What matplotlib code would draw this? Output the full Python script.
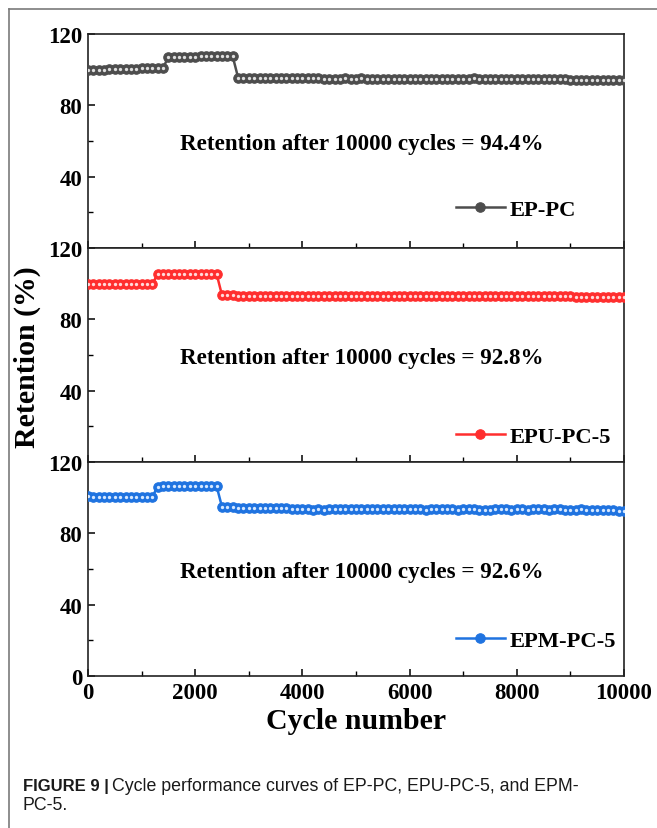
import numpy as np
import matplotlib
matplotlib.use("Agg")
import matplotlib.pyplot as plt
from matplotlib.ticker import MultipleLocator

# cycle points (every 100 cycles)
cycles = np.arange(0, 10001, 100)

ep_pc = [99.6, 99.8, 99.9, 100.0, 100.1, 100.2, 100.3, 100.4, 100.5, 100.6, 100.7, 100.8, 100.9, 101.0, 101.1,
         107.0, 107.1, 107.2, 107.2, 107.3, 107.3, 107.4, 107.4, 107.4, 107.5, 107.5, 107.6, 107.4,
         95.6, 95.5, 95.5, 95.4, 95.4, 95.4, 95.3, 95.3, 95.3, 95.2,
         95.2, 95.2, 95.1, 95.1, 95.1, 95.3, 95.0, 95.0, 94.9, 94.9,
         95.2, 94.9, 94.9, 95.3, 94.9, 94.8, 94.8, 94.8, 94.8, 94.8,
         94.8, 94.7, 94.7, 94.7, 94.7, 94.7, 94.7, 94.7, 94.7, 94.7,
         94.6, 94.6, 94.6, 94.6, 95.1, 94.6, 94.6, 94.8, 94.6, 94.5,
         94.5, 94.5, 94.5, 94.5, 94.5, 94.9, 94.5, 94.5, 94.5, 94.5,
         94.5, 94.5, 94.4, 94.4, 94.4, 94.4, 94.4, 94.0, 94.4, 94.4,
         94.4, 94.4, 94.4]

epu_pc5 = [100.0, 99.9, 99.9, 99.9, 99.8, 99.8, 99.8, 99.8, 99.7, 99.7, 99.7, 99.6, 99.6,
           105.6, 105.6, 105.5, 105.5, 105.5, 105.5, 105.5, 105.4, 105.4, 105.4, 105.4, 105.4,
           93.5, 93.4, 93.4, 93.3, 93.3, 93.3, 93.3, 93.3, 93.2, 93.2,
           93.2, 93.2, 93.2, 93.2, 93.3, 93.1, 93.1, 93.1, 93.1, 93.1,
           93.1, 93.1, 93.1, 93.0, 93.0, 93.0, 93.0, 93.0, 93.0, 93.0,
           93.0, 93.0, 93.0, 93.0, 93.2, 93.0, 92.9, 92.9, 92.9, 92.9,
           92.9, 92.9, 92.9, 92.9, 92.9, 92.9, 92.9, 93.0, 92.9, 92.9,
           92.9, 92.9, 92.9, 92.9, 92.9, 92.9, 92.9, 92.9, 92.9, 92.9,
           92.9, 92.9, 93.1, 93.1, 93.0, 92.9, 92.8, 92.8, 92.8, 92.8,
           92.8, 92.8, 92.8, 92.8, 92.8, 92.8]

epm_pc5 = [101.0, 100.3, 100.3, 100.3, 100.3, 100.3, 100.4, 100.4, 100.4, 100.4, 100.4, 100.4, 100.5,
           106.2, 106.3, 106.3, 106.4, 106.4, 106.4, 106.5, 106.5, 106.5, 106.5, 106.5, 106.4,
           94.8, 94.6, 94.5, 94.4, 94.4, 94.3, 94.3, 94.2, 94.2, 94.1,
           94.1, 94.0, 94.0, 93.9, 93.9, 93.6, 93.4, 93.3, 93.8, 93.2,
           93.9, 93.6, 93.5, 93.5, 93.6, 93.8, 93.5, 93.6, 93.8, 93.5,
           93.5, 93.5, 93.6, 93.4, 93.4, 93.4, 93.7, 93.5, 93.3, 93.6,
           93.5, 93.6, 93.8, 93.5, 93.3, 93.6, 93.7, 93.4, 93.3, 93.3,
           93.3, 93.6, 93.7, 93.4, 93.3, 93.4, 93.4, 93.3, 93.6, 93.5,
           93.4, 93.3, 93.4, 93.6, 93.3, 93.2, 93.1, 93.4, 93.2, 93.1,
           93.0, 93.1, 93.0, 92.9, 92.8, 92.6]

labels = ["EP-PC", "EPU-PC-5", "EPM-PC-5"]
final_ret = ["94.4", "92.8", "92.6"]
series = [ep_pc, epu_pc5, epm_pc5]
colors = ["#4d4d4d", "#ff2e2e", "#1f73e0"]
hilite = ["#e0e0e0", "#ffdada", "#d6e8ff"]
legend_y = [0.178, 0.12, 0.164]

serif = ["Liberation Serif", "DejaVu Serif"]
plt.rcParams['font.family'] = serif
plt.rcParams['font.weight'] = 'bold'

W, H = 657, 829
fig = plt.figure(figsize=(W / 100, H / 100), dpi=100)

left, right = 88 / W, 624 / W
tops = [35, 249, 463]
ph = 214

axes = []
for i in range(3):
    bottom = 1 - (tops[i] + ph) / H
    ax = fig.add_axes([left, bottom, right - left, ph / H])
    axes.append(ax)
    y = series[i]
    ax.plot(cycles, y, '-', color=colors[i], lw=1.8, marker='o', ms=6.8,
            mfc=colors[i], mec=colors[i], mew=0.8, label=labels[i], zorder=3)
    ax.plot(cycles, y, 'o', ms=2.4, color=hilite[i], mec='none', zorder=4)
    ax.set_xlim(0, 10000)
    ax.set_ylim(0, 120)
    ax.xaxis.set_major_locator(MultipleLocator(2000))
    ax.xaxis.set_minor_locator(MultipleLocator(1000))
    if i < 2:
        ax.set_yticks([40, 80, 120])
        ax.tick_params(axis='x', labelbottom=False)
    else:
        ax.set_yticks([0, 40, 80, 120])
    ax.yaxis.set_minor_locator(MultipleLocator(20))
    ax.tick_params(which='major', direction='in', length=5, width=1.1, labelsize=16.5, pad=4)
    ax.tick_params(which='minor', direction='in', length=3.5, width=1.0)
    for lab in ax.get_xticklabels() + ax.get_yticklabels():
        lab.set_fontweight('bold')
    for s in ax.spines.values():
        s.set_linewidth(1.2)
        s.set_color('#222222')
    ax.text(0.51, 0.49, "Retention after 10000 cycles = %s%%" % final_ret[i],
            transform=ax.transAxes, ha='center', va='center', fontsize=16.6, fontweight='bold')
    ax.legend(loc='center left', bbox_to_anchor=(0.665, legend_y[i]), frameon=False,
              handlelength=2.2, handletextpad=0.2, borderpad=0, markerscale=1.0,
              prop={'weight': 'bold', 'size': 16.2, 'family': serif})

fig.text(27 / W, 1 - 357 / H, "Retention (%)", rotation=90, ha='center', va='center',
         fontsize=21.5, fontweight='bold')
fig.text(356 / W, 1 - 722 / H, "Cycle number", ha='center', va='center',
         fontsize=21.5, fontweight='bold')

# frame lines of the figure panel
fig.add_artist(plt.Line2D([9 / W, 1], [1 - 10 / H, 1 - 10 / H], color='#7a7a7a', lw=1.2))
fig.add_artist(plt.Line2D([9 / W, 9 / W], [0, 1 - 10 / H], color='#7a7a7a', lw=1.2))

# caption
sans = ["Liberation Sans", "DejaVu Sans"]
t1 = fig.text(23 / W, 1 - 787 / H, "FIGURE 9 |", ha='left', va='center', fontsize=12,
              fontweight='bold', family=sans, color='#1a1a1a')
fig.canvas.draw()
bb = t1.get_window_extent()
fig.text(bb.x1 / W + 3 / W, 1 - 787 / H, "Cycle performance curves of EP-PC, EPU-PC-5, and EPM-",
         ha='left', va='center', fontsize=12.8, fontweight='normal', family=sans, color='#1a1a1a')
fig.text(23 / W, 1 - 806 / H, "PC-5.", ha='left', va='center', fontsize=12.8,
         fontweight='normal', family=sans, color='#1a1a1a')

fig.savefig("out.png", dpi=100)
